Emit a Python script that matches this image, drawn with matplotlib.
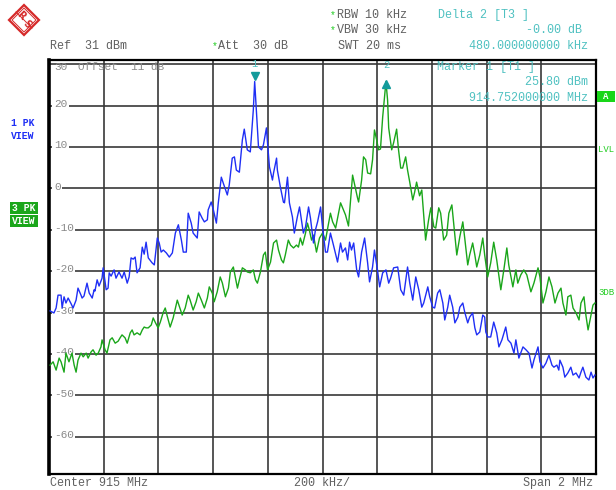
import numpy as np
import matplotlib
matplotlib.use("Agg")
import matplotlib.pyplot as plt
from matplotlib.patches import Rectangle, Polygon
from matplotlib.transforms import blended_transform_factory

W, H = 616, 490
MONO = ['Liberation Mono', 'DejaVu Sans Mono']

# analyzer settings shown in the header
CENTER_MHZ = 915.0
SPAN_MHZ = 2.0
REF_DBM = 31
GRID_DB = [30, 20, 10, 0, -10, -20, -30, -40, -50, -60]
MARKER1_MHZ, MARKER1_DBM = 914.752, 25.80
DELTA2_KHZ, DELTA2_DB = 480.0, -0.00

# trace 1 (1 PK VIEW)
trace1_mhz = [
    914.004, 914.018, 914.026, 914.033, 914.044, 914.048, 914.055, 914.062, 914.070, 914.081,
    914.088, 914.099, 914.106, 914.117, 914.121, 914.128, 914.139, 914.147, 914.158, 914.165,
    914.168, 914.176, 914.183, 914.194, 914.198, 914.209, 914.216, 914.220, 914.227, 914.238,
    914.245, 914.256, 914.267, 914.275, 914.286, 914.293, 914.300, 914.308, 914.315, 914.322,
    914.333, 914.341, 914.348, 914.355, 914.363, 914.377, 914.385, 914.396, 914.403, 914.410,
    914.418, 914.429, 914.440, 914.451, 914.462, 914.473, 914.484, 914.491, 914.502, 914.509,
    914.520, 914.527, 914.542, 914.549, 914.560, 914.568, 914.579, 914.582, 914.593, 914.601,
    914.612, 914.619, 914.630, 914.637, 914.652, 914.659, 914.670, 914.678, 914.685, 914.696,
    914.707, 914.714, 914.725, 914.736, 914.747, 914.752, 914.758, 914.766, 914.777, 914.784,
    914.795, 914.799, 914.806, 914.817, 914.821, 914.832, 914.835, 914.846, 914.857, 914.861,
    914.872, 914.879, 914.890, 914.897, 914.908, 914.916, 914.923, 914.930, 914.938, 914.949,
    914.956, 914.967, 914.974, 914.982, 914.993, 915.000, 915.011, 915.018, 915.029, 915.040,
    915.055, 915.066, 915.073, 915.084, 915.092, 915.099, 915.106, 915.114, 915.125, 915.132,
    915.143, 915.154, 915.165, 915.172, 915.183, 915.190, 915.201, 915.209, 915.220, 915.232,
    915.242, 915.249, 915.260, 915.275, 915.286, 915.297, 915.311, 915.319, 915.330, 915.341,
    915.352, 915.363, 915.370, 915.385, 915.392, 915.403, 915.410, 915.421, 915.429, 915.440,
    915.447, 915.458, 915.465, 915.476, 915.484, 915.495, 915.502, 915.513, 915.520, 915.531,
    915.538, 915.549, 915.557, 915.564, 915.575, 915.586, 915.593, 915.597, 915.604, 915.615,
    915.626, 915.637, 915.645, 915.656, 915.670, 915.678, 915.689, 915.700, 915.707, 915.718,
    915.733, 915.744, 915.755, 915.766, 915.773, 915.788, 915.795, 915.806, 915.817, 915.828,
    915.839, 915.846, 915.857, 915.864, 915.868, 915.879, 915.886, 915.897, 915.908, 915.916,
    915.927, 915.938, 915.945, 915.952, 915.963, 915.974, 915.982, 915.989, 915.996,
]
trace1_dbm = [
    -29.6, -30.1, -28.9, -25.8, -25.8, -28.9, -26.2, -27.7, -26.5, -27.9,
    -28.9, -27.0, -24.1, -25.8, -26.5, -26.0, -22.9, -25.3, -26.5, -24.5,
    -24.8, -22.1, -23.6, -21.7, -19.2, -24.5, -24.1, -20.4, -21.2, -19.7,
    -21.7, -20.2, -21.7, -20.2, -22.9, -21.4, -16.8, -17.1, -16.6, -20.4,
    -19.2, -14.2, -15.9, -13.0, -16.8, -18.0, -18.5, -12.0, -13.2, -15.4,
    -14.9, -15.6, -16.6, -15.6, -10.8, -8.8, -12.5, -15.4, -15.4, -6.0,
    -8.4, -10.8, -12.0, -5.7, -7.2, -8.1, -7.6, -5.2, -3.3, -5.2,
    -8.4, -3.5, 2.7, 1.3, -1.6, 0.8, 7.3, 7.6, 4.4, 3.9,
    11.7, 14.3, 9.3, 8.8, 18.9, 25.8, 18.9, 10.0, 9.3, 10.5,
    14.6, 11.0, 5.2, 2.0, 3.7, 7.3, 4.4, 0.3, -3.3, -3.5,
    2.7, -3.5, -6.9, -10.8, -6.9, -4.5, -7.6, -10.8, -9.3, -4.5,
    -7.2, -13.2, -10.1, -8.1, -4.5, -9.3, -15.4, -15.4, -10.8, -13.7,
    -17.8, -13.2, -15.4, -14.4, -17.3, -13.0, -14.9, -13.2, -19.7, -21.4,
    -15.4, -12.0, -18.0, -22.6, -19.0, -14.9, -19.7, -23.8, -20.4, -19.7,
    -22.9, -21.7, -19.2, -19.0, -24.5, -25.8, -19.0, -22.9, -27.0, -21.4,
    -24.5, -28.7, -27.7, -23.8, -26.2, -28.7, -28.9, -25.3, -24.5, -27.7,
    -31.8, -28.7, -25.8, -28.7, -32.5, -31.1, -28.7, -27.7, -29.9, -32.5,
    -31.1, -30.1, -33.7, -35.4, -34.7, -30.6, -31.1, -34.7, -35.9, -35.9,
    -32.3, -34.9, -38.3, -36.6, -33.5, -36.6, -37.4, -39.8, -36.6, -41.0,
    -38.3, -39.0, -39.8, -43.4, -41.5, -38.3, -41.9, -43.4, -42.2, -40.3,
    -42.7, -43.2, -42.7, -43.9, -41.5, -43.2, -45.6, -44.6, -43.2, -45.1,
    -44.6, -45.8, -44.4, -43.2, -45.6, -46.3, -44.4, -45.8, -45.1,
]

# trace 3 (3 PK VIEW)
trace3_mhz = [
    914.004, 914.015, 914.026, 914.037, 914.044, 914.055, 914.062, 914.073, 914.084, 914.092,
    914.099, 914.106, 914.117, 914.125, 914.136, 914.143, 914.154, 914.161, 914.172, 914.180,
    914.190, 914.194, 914.205, 914.212, 914.223, 914.231, 914.242, 914.253, 914.260, 914.267,
    914.278, 914.286, 914.297, 914.304, 914.311, 914.322, 914.333, 914.341, 914.348, 914.355,
    914.363, 914.374, 914.381, 914.388, 914.399, 914.407, 914.418, 914.425, 914.432, 914.443,
    914.454, 914.469, 914.476, 914.487, 914.498, 914.509, 914.516, 914.527, 914.538, 914.546,
    914.557, 914.568, 914.579, 914.586, 914.597, 914.604, 914.615, 914.626, 914.634, 914.645,
    914.656, 914.663, 914.674, 914.681, 914.689, 914.696, 914.707, 914.718, 914.725, 914.736,
    914.747, 914.755, 914.762, 914.773, 914.784, 914.791, 914.799, 914.810, 914.821, 914.832,
    914.839, 914.850, 914.857, 914.864, 914.875, 914.883, 914.894, 914.905, 914.912, 914.919,
    914.927, 914.938, 914.945, 914.952, 914.960, 914.967, 914.978, 914.989, 915.000, 915.011,
    915.029, 915.037, 915.048, 915.066, 915.084, 915.095, 915.110, 915.128, 915.132, 915.143,
    915.150, 915.158, 915.165, 915.176, 915.183, 915.190, 915.198, 915.205, 915.212, 915.220,
    915.232, 915.238, 915.242, 915.253, 915.260, 915.271, 915.278, 915.286, 915.293, 915.304,
    915.311, 915.319, 915.330, 915.337, 915.344, 915.355, 915.363, 915.377, 915.388, 915.396,
    915.407, 915.414, 915.425, 915.432, 915.443, 915.454, 915.462, 915.473, 915.480, 915.491,
    915.502, 915.513, 915.520, 915.531, 915.538, 915.549, 915.557, 915.564, 915.575, 915.586,
    915.593, 915.604, 915.615, 915.626, 915.637, 915.652, 915.663, 915.674, 915.681, 915.696,
    915.707, 915.714, 915.725, 915.736, 915.747, 915.762, 915.773, 915.788, 915.795, 915.806,
    915.817, 915.828, 915.839, 915.850, 915.861, 915.872, 915.879, 915.890, 915.897, 915.908,
    915.916, 915.927, 915.938, 915.945, 915.956, 915.963, 915.971, 915.982, 915.989, 915.996,
]
trace3_dbm = [
    -42.7, -41.9, -43.9, -41.0, -41.9, -44.4, -39.8, -41.9, -39.8, -42.7,
    -44.4, -41.5, -39.8, -40.7, -39.8, -41.0, -39.5, -39.0, -40.3, -39.8,
    -38.3, -36.6, -39.0, -39.8, -36.6, -36.1, -37.4, -36.9, -36.1, -35.4,
    -36.1, -37.4, -34.9, -34.2, -35.4, -34.9, -35.4, -34.2, -33.5, -33.7,
    -33.7, -33.0, -31.3, -32.3, -33.7, -32.3, -29.9, -28.9, -30.8, -33.5,
    -31.3, -27.0, -28.4, -30.6, -28.9, -25.8, -27.0, -29.4, -27.4, -25.3,
    -27.0, -28.9, -26.5, -23.8, -25.3, -27.4, -25.0, -21.4, -22.9, -26.2,
    -24.1, -20.2, -19.0, -21.4, -24.1, -22.1, -19.2, -19.7, -20.2, -20.4,
    -19.7, -22.1, -22.9, -20.2, -16.1, -15.4, -19.7, -17.8, -13.2, -12.5,
    -14.9, -17.3, -18.0, -16.1, -12.5, -13.7, -14.4, -13.7, -14.2, -12.0,
    -13.7, -10.8, -8.4, -10.1, -12.5, -11.3, -15.4, -12.0, -10.8, -12.5,
    -6.0, -8.1, -9.6, -3.5, -6.4, -9.1, 3.2, -2.3, -3.3, 2.0,
    7.6, 6.9, 3.7, 3.5, 6.9, 14.1, 11.7, 9.3, 9.5, 17.2,
    25.8, 21.3, 14.6, 9.3, 11.0, 14.3, 9.3, 4.9, 4.9, 7.6,
    4.4, 1.5, -2.8, -0.9, 1.5, -1.8, -0.4, -12.5, -7.6, -4.7,
    -9.3, -9.6, -4.7, -6.0, -12.5, -11.3, -6.0, -4.0, -8.8, -16.1,
    -11.7, -8.1, -12.0, -18.5, -16.1, -13.2, -16.1, -19.0, -16.1, -12.0,
    -16.1, -21.4, -18.0, -13.0, -17.3, -24.5, -19.7, -14.4, -18.5, -23.8,
    -19.7, -22.9, -20.9, -19.7, -20.9, -25.0, -22.9, -19.2, -21.4, -27.7,
    -25.0, -21.4, -23.8, -27.7, -25.3, -24.1, -27.7, -30.6, -26.2, -25.8,
    -28.9, -30.1, -31.8, -27.7, -26.2, -30.6, -34.2, -30.6, -28.2, -27.7,
]

BLUE = '#1f2ff5'
GREEN = '#1aa61a'
LGREEN = '#22cc22'
TEAL = '#139b9b'
CYAN = '#4fc1c1'
GREY = '#606060'
LBL = '#8a8a8a'
GRID = '#383838'


def fx(x):
    return x / W


def fy(y):
    return 1 - y / H


fig = plt.figure(figsize=(W / 100, H / 100), dpi=100)
fig.patch.set_facecolor('white')


def put(x, y, s, color=GREY, ha='left', size=8.5, **kw):
    fig.text(fx(x), fy(y), s, color=color, ha=ha, va='center',
             family=MONO, fontsize=size, **kw)


ax = fig.add_axes([fx(49), fy(474), fx(596) - fx(49), fy(60) - fy(474)])
ax.set_xlim(CENTER_MHZ - SPAN_MHZ / 2, CENTER_MHZ + SPAN_MHZ / 2)
ax.set_ylim(REF_DBM - 100, REF_DBM)
ax.set_xticks([]); ax.set_yticks([])
for sp in ax.spines.values():
    sp.set_color('black'); sp.set_linewidth(1.6)
ax.spines['left'].set_linewidth(2.6)

# 10 x 10 division graticule
for k in range(1, 10):
    ax.axvline(CENTER_MHZ - SPAN_MHZ / 2 + k * SPAN_MHZ / 10, color=GRID, lw=1.2, zorder=1)
for lev in GRID_DB:
    ax.axhline(lev, color=GRID, lw=1.2, zorder=1)

# level labels sit inside the graticule, cutting the lines
tr = blended_transform_factory(ax.transAxes, ax.transData)
for lev in GRID_DB:
    if lev == GRID_DB[0]:
        ax.text(0.009, lev - 0.8, f'{lev}', transform=tr, color=LBL, family=MONO,
                fontsize=8, ha='left', va='center', zorder=2)
        continue
    ax.text(0.009, lev + 0.4, f'{lev}', transform=tr, color=LBL, family=MONO,
            fontsize=8, ha='left', va='center', zorder=2,
            bbox=dict(boxstyle='square,pad=0.15', fc='white', ec='none'))
ax.text(0.053, 29.2, 'Offset  11 dB', transform=tr, color=LBL, family=MONO,
        fontsize=8, ha='left', va='center', zorder=2)

ax.plot(trace3_mhz, trace3_dbm, color=GREEN, lw=1.0, zorder=3)
ax.plot(trace1_mhz, trace1_dbm, color=BLUE, lw=1.0, zorder=4)

# markers
m2_mhz = MARKER1_MHZ + DELTA2_KHZ / 1000
m2_dbm = MARKER1_DBM + DELTA2_DB
ax.plot([MARKER1_MHZ], [MARKER1_DBM + 1.4], marker='v', ms=6, color=TEAL, zorder=6)
ax.plot([m2_mhz], [m2_dbm - 0.6], marker='^', ms=6, color=TEAL, zorder=6)
ax.text(MARKER1_MHZ, MARKER1_DBM + 4.3, '1', color=CYAN, family=MONO, fontsize=7.5,
        ha='center', va='center', zorder=6)
ax.text(m2_mhz, MARKER1_DBM + 3.9, '2', color=CYAN, family=MONO, fontsize=7.5,
        ha='center', va='center', zorder=6)

# marker readout inside the display
put(437, 67, 'Marker 1 [T1 ]', CYAN)
put(588, 82, f'{MARKER1_DBM:.2f} dBm', CYAN, ha='right')
put(588, 98, f'{MARKER1_MHZ:.9f} MHz', CYAN, ha='right')

# header
put(50, 46, f'Ref  {REF_DBM} dBm')
put(212, 46, '*', LGREEN, size=7)
put(218, 46, 'Att  30 dB')
put(330, 15, '*', LGREEN, size=7)
put(337, 15, 'RBW 10 kHz')
put(330, 30, '*', LGREEN, size=7)
put(337, 30, 'VBW 30 kHz')
put(338, 46, 'SWT 20 ms')
put(438, 15, 'Delta 2 [T3 ]', CYAN)
put(582, 30, f'-{abs(DELTA2_DB):.2f} dB', CYAN, ha='right')
put(588, 46, f'{DELTA2_KHZ:.9f} kHz', CYAN, ha='right')

# footer
put(50, 483, f'Center {CENTER_MHZ:g} MHz')
put(322, 483, f'{SPAN_MHZ / 10 * 1000:g} kHz/', ha='center')
put(593, 483, f'Span {SPAN_MHZ:g} MHz', ha='right')

# side annotations
put(11, 123, '1 PK', BLUE, size=7, weight='bold')
put(11, 136, 'VIEW', BLUE, size=7, weight='bold')
fig.patches.append(Rectangle((fx(10), fy(214)), fx(28), 12 / H, transform=fig.transFigure,
                             fc=GREEN, ec='none'))
fig.patches.append(Rectangle((fx(10), fy(227)), fx(28), 12 / H, transform=fig.transFigure,
                             fc=GREEN, ec='none'))
put(12, 208, '3 PK', 'white', size=7, weight='bold')
put(12, 221, 'VIEW', 'white', size=7, weight='bold')
fig.patches.append(Rectangle((fx(597), fy(102)), fx(18), 11 / H, transform=fig.transFigure,
                             fc='#19d619', ec='none'))
put(606, 96.5, 'A', 'white', ha='center', size=6.5, weight='bold')
put(598, 149, 'LVL', LGREEN, size=6.5)
put(598, 292, '3DB', LGREEN, size=6.5)

# R&S logo
RED = '#d62a2a'
cx, cy, r = 24, 20, 15
fig.patches.append(Polygon([(fx(cx - r), fy(cy)), (fx(cx), fy(cy - r)), (fx(cx + r), fy(cy)),
                            (fx(cx), fy(cy + r))], closed=True, transform=fig.transFigure,
                           fc='white', ec=RED, lw=1.6))
r2 = r - 3
fig.patches.append(Polygon([(fx(cx - r2), fy(cy)), (fx(cx), fy(cy - r2)), (fx(cx + r2), fy(cy)),
                            (fx(cx), fy(cy + r2))], closed=True, transform=fig.transFigure,
                           fc='none', ec=RED, lw=0.7))
fig.lines.append(plt.Line2D([fx(cx - 8), fx(cx + 8)], [fy(cy - 8), fy(cy + 8)],
                            transform=fig.transFigure, color=RED, lw=0.7))
fig.text(fx(cx - 3), fy(cy - 4), 'R', color=RED, fontsize=7, weight='bold',
         ha='center', va='center', rotation=-45)
fig.text(fx(cx + 3), fy(cy + 4), 'S', color=RED, fontsize=7, weight='bold',
         ha='center', va='center', rotation=-45)

fig.savefig('out.png', dpi=100)
